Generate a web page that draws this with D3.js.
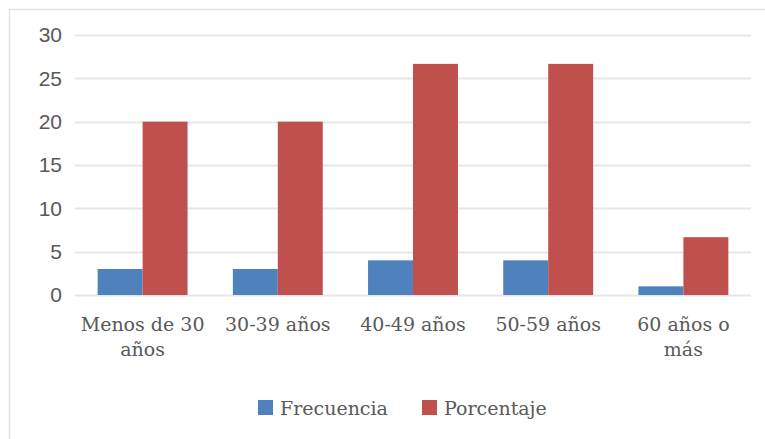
<!DOCTYPE html>
<html>
<head>
<meta charset="utf-8">
<script src="https://cdn.jsdelivr.net/npm/d3@7"></script>
<style>
  html, body { margin: 0; padding: 0; background: #fff; }
  svg { display: block; }
</style>
</head>
<body>
<svg id="chart" width="765" height="439"></svg>
<script>
// Age groups and the two series plotted for each
const categories = ["Menos de 30 años", "30-39 años", "40-49 años", "50-59 años", "60 años o más"];
const categoryLines = [["Menos de 30", "años"], ["30-39 años"], ["40-49 años"], ["50-59 años"], ["60 años o", "más"]];
const frecuencia = [3, 3, 4, 4, 1];
const porcentaje = [20, 20, 26.67, 26.67, 6.67];
const seriesNames = ["Frecuencia", "Porcentaje"];
const seriesColors = ["#4f81bd", "#c0504d"];
const yTicks = [0, 5, 10, 15, 20, 25, 30];

const svg = d3.select("#chart");
const labelFont = "'DejaVu Serif', serif";
const tickFont = "'Liberation Sans Narrow', 'Liberation Sans', sans-serif";

// outer chart frame (top and left edges visible)
svg.append("path")
  .attr("d", "M9.5,439 V9.5 H765")
  .attr("fill", "none")
  .attr("stroke", "#e3e3e3")
  .attr("stroke-width", 1.5);

const plot = { left: 75, right: 751, top: 35, bottom: 295 };

const x = d3.scaleBand()
  .domain(categories)
  .range([plot.left, plot.right])
  .paddingInner(0.335)
  .paddingOuter(0.1675);

const xSeries = d3.scaleBand()
  .domain(seriesNames)
  .range([0, x.bandwidth()]);

const y = d3.scaleLinear()
  .domain([0, 30])
  .range([plot.bottom, plot.top]);

// horizontal gridlines
svg.append("g")
  .selectAll("line")
  .data(yTicks)
  .join("line")
  .attr("x1", plot.left)
  .attr("x2", plot.right)
  .attr("y1", d => Math.round(y(d)) + 0.5)
  .attr("y2", d => Math.round(y(d)) + 0.5)
  .attr("stroke", "#e6e6e6")
  .attr("stroke-width", 2);

// y axis labels
const yAxis = d3.axisLeft(y).tickValues(yTicks).tickSize(0).tickPadding(0);
svg.append("g")
  .attr("transform", `translate(${plot.left - 13},0)`)
  .call(yAxis)
  .call(g => g.select(".domain").remove())
  .call(g => g.selectAll("text")
    .attr("fill", "#595959")
    .attr("font-family", tickFont)
    .attr("font-size", 21));

// bars
const rows = categories.map((c, i) => ({ cat: c, values: [frecuencia[i], porcentaje[i]] }));
const groups = svg.append("g")
  .selectAll("g")
  .data(rows)
  .join("g")
  .attr("transform", d => `translate(${x(d.cat)},0)`);

groups.selectAll("rect")
  .data(d => d.values.map((v, k) => ({ name: seriesNames[k], value: v, color: seriesColors[k] })))
  .join("rect")
  .attr("x", d => xSeries(d.name))
  .attr("width", xSeries.bandwidth())
  .attr("y", d => y(d.value))
  .attr("height", d => y(0) - y(d.value))
  .attr("fill", d => d.color);

// category labels (wrapped over two lines where needed)
const xl = svg.append("g")
  .selectAll("text")
  .data(categories)
  .join("text")
  .attr("x", d => x(d) + x.bandwidth() / 2)
  .attr("y", 331)
  .attr("text-anchor", "middle")
  .attr("fill", "#595959")
  .attr("font-family", labelFont)
  .attr("font-size", 19);
xl.selectAll("tspan")
  .data((d, i) => categoryLines[i])
  .join("tspan")
  .attr("x", function () { return d3.select(this.parentNode).attr("x"); })
  .attr("dy", (d, j) => j === 0 ? 0 : 25)
  .text(d => d);

// legend
const legendX = [258, 422];
const legend = svg.append("g")
  .selectAll("g")
  .data(seriesNames)
  .join("g")
  .attr("transform", (d, i) => `translate(${legendX[i]},400)`);
legend.append("rect")
  .attr("width", 15)
  .attr("height", 15)
  .attr("fill", (d, i) => seriesColors[i]);
legend.append("text")
  .attr("x", 22)
  .attr("y", 15)
  .attr("fill", "#595959")
  .attr("font-family", labelFont)
  .attr("font-size", 19)
  .text(d => d);
</script>
</body>
</html>
